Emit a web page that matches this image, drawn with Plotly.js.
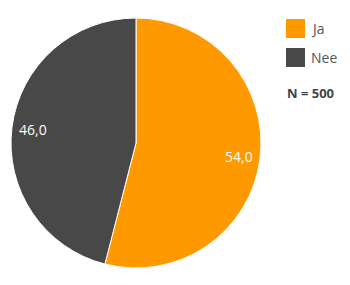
<!DOCTYPE html>
<html><head><meta charset="utf-8">
<script src="https://cdn.plot.ly/plotly-3.0.1.min.js"></script>
<style>html,body{margin:0;padding:0;background:#fff}#chart{width:350px;height:285px}</style>
</head><body><div id="chart"></div>
<script>
var categories = ["Ja", "Nee"];
var values = [54.0, 46.0];
var colors = ["#FF9900", "#484848"];
var noteText = "N = 500";

var W = 350, H = 285;
var cx = 136, cy = 143, R = 125;
var dom = {x: [(cx - R) / W, (cx + R) / W], y: [(H - cy - R) / H, (H - cy + R) / H]};

var trace = {
  type: "pie",
  labels: categories,
  values: values,
  sort: false,
  direction: "clockwise",
  rotation: 0,
  marker: {colors: colors, line: {color: "#ffffff", width: 1}},
  textinfo: "none",
  hoverinfo: "label+value",
  domain: dom,
  showlegend: false
};

var annotations = [];
var shapes = [];
var total = values.reduce(function (a, b) { return a + b; }, 0);
var cum = 0;
values.forEach(function (v, i) {
  var mid = (cum + v / 2) / total * 2 * Math.PI;
  cum += v;
  var rr = 0.83 * R;
  var px = cx + rr * Math.sin(mid), py = cy - rr * Math.cos(mid);
  annotations.push({
    xref: "paper", yref: "paper", x: px / W, y: (H - py) / H,
    text: v.toFixed(1).replace(".", ","), showarrow: false,
    font: {family: "Open Sans, sans-serif", size: 14, color: "#ffffff"},
    xanchor: "center", yanchor: "middle"
  });
});

// custom legend
categories.forEach(function (c, i) {
  var top = 19 + i * 29;
  shapes.push({
    type: "rect", xref: "paper", yref: "paper",
    x0: 286 / W, x1: 305 / W, y0: (H - top - 19) / H, y1: (H - top) / H,
    fillcolor: colors[i], line: {width: 0}
  });
  annotations.push({
    xref: "paper", yref: "paper", x: 309 / W, y: (H - top - 9.5) / H,
    text: c, showarrow: false, xanchor: "left", yanchor: "middle",
    font: {family: "Open Sans, sans-serif", size: 14, color: "#555555"}
  });
});
annotations.push({
  xref: "paper", yref: "paper", x: 285 / W, y: (H - 93) / H,
  text: "<b>" + noteText + "</b>", showarrow: false, xanchor: "left", yanchor: "middle",
  font: {family: "Open Sans, sans-serif", size: 13, color: "#444444"}
});

var layout = {
  width: W, height: H,
  margin: {l: 0, r: 0, t: 0, b: 0},
  paper_bgcolor: "#ffffff",
  showlegend: false,
  annotations: annotations,
  shapes: shapes
};

Plotly.newPlot("chart", [trace], layout, {staticPlot: true, displayModeBar: false});
</script></body></html>
